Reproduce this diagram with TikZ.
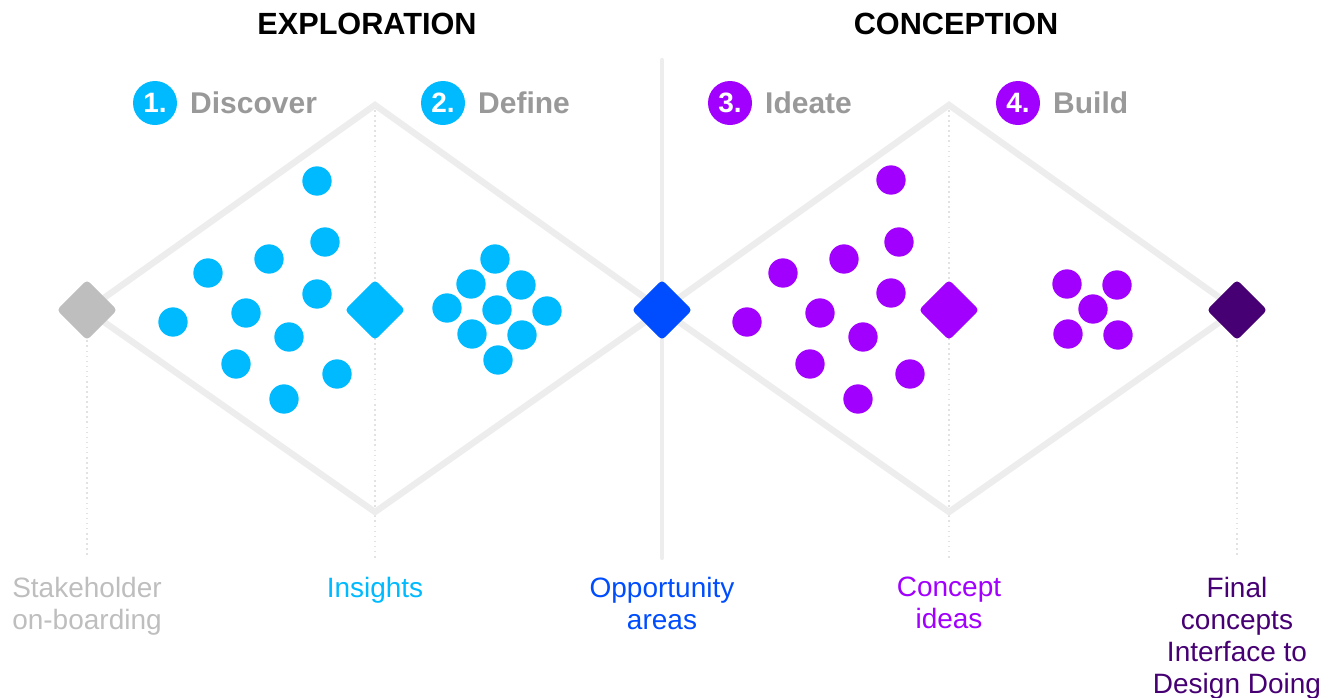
\documentclass[tikz,border=0pt]{standalone}
\usepackage{fontspec}
\setmainfont{Liberation Sans}
\usetikzlibrary{positioning,backgrounds}

\definecolor{acccyan}{HTML}{00BAFF}
\definecolor{accblue}{HTML}{004DFF}
\definecolor{accpurple}{HTML}{A100FF}
\definecolor{accdark}{HTML}{460073}
\definecolor{stonegray}{HTML}{BEBEBE}
\definecolor{labelgray}{HTML}{999999}
\definecolor{railgray}{HTML}{EDEDED}
\definecolor{dotgray}{HTML}{E2E2E2}

\begin{document}
\begin{tikzpicture}[x=0.75pt,y=-0.75pt,
  gem/.style={rotate=45, minimum size=32pt, inner sep=0pt, rounded corners=3pt},
  stepnum/.style={circle, minimum size=33pt, inner sep=0pt, text=white,
    font=\fontsize{21}{24}\selectfont\bfseries},
  steplabel/.style={text=labelgray, inner sep=0pt, font=\fontsize{22.5}{26}\selectfont\bfseries},
  phase/.style={inner sep=0pt, font=\fontsize{23}{26}\selectfont\bfseries},
  outcome/.style={anchor=north, align=center, inner sep=0pt, font=\fontsize{21}{24}\selectfont},
  rail/.style={draw=railgray, line width=4.8pt, line join=miter},
  guide/.style={draw=dotgray, line width=1.2pt, dash pattern=on 1.2pt off 2.6pt},
]
  \useasboundingbox (0,0) rectangle (1336,697);

  % milestones along the two diamonds
  \node[gem, fill=stonegray] (stake) at (87,310) {};
  \node[gem, fill=acccyan] (ins) at (375,310) {};
  \node[gem, fill=accblue] (opp) at (662,310) {};
  \node[gem, fill=accpurple] (idea) at (949,310) {};
  \node[gem, fill=accdark] (fin) at (1237,310) {};

  \coordinate (t1) at (375,105);
  \coordinate (b1) at (375,512);
  \coordinate (t2) at (949,105);
  \coordinate (b2) at (949,512);
  \coordinate (g0) at (87,558);
  \coordinate (g1) at (375,558);
  \coordinate (g3) at (949,558);
  \coordinate (g4) at (1237,558);
  \coordinate (sepTop) at (662,60);
  \coordinate (sepBot) at (662,558);

  \begin{scope}[on background layer]
    \draw[guide] (stake.center) -- (g0);
    \draw[guide] (t1) -- (g1);
    \draw[guide] (t2) -- (g3);
    \draw[guide] (fin.center) -- (g4);
    \draw[rail] (stake.center) -- (t1) -- (opp.center) -- (b1) -- cycle;
    \draw[rail] (opp.center) -- (t2) -- (fin.center) -- (b2) -- cycle;
    \draw[draw=railgray, line width=3.2pt, line cap=round] (sepTop) -- (sepBot);
  \end{scope}

  % scattered findings and ideas
  \foreach \x/\y in {317/181,325/242,269/259,208/273,317/294,246/313,173/322,
                     289/337,236/364,337/374,284/399,
                     495/259,471/284,521/285,447/308,497/310,547/311,472/334,522/335,498/360}
    \fill[acccyan] (\x,\y) circle[radius=11pt];
  \foreach \x/\y in {891/180,899/242,844/259,783/273,891/293,820/313,747/322,
                     863/337,810/364,910/374,858/399,
                     1067/284,1117/285,1093/309,1068/334,1118/335}
    \fill[accpurple] (\x,\y) circle[radius=11pt];

  % phase and step headings
  \node[phase] (explo) at (367,24) {EXPLORATION};
  \node[phase] (conc) at (956,24) {CONCEPTION};

  \node[stepnum, fill=acccyan] (n1) at (155,103) {1.};
  \node[steplabel, right=9.5pt of n1] (disc) {Discover};
  \node[stepnum, fill=acccyan] (n2) at (443,103) {2.};
  \node[steplabel, right=9.5pt of n2] (defi) {Define};
  \node[stepnum, fill=accpurple] (n3) at (730,103) {3.};
  \node[steplabel, right=9.5pt of n3] (ideat) {Ideate};
  \node[stepnum, fill=accpurple] (n4) at (1018,103) {4.};
  \node[steplabel, right=9.5pt of n4] (buil) {Build};

  % outcomes under each milestone
  \node[outcome, text=stonegray] (lstake) at (87,577) {Stakeholder\\on-boarding};
  \node[outcome, text=acccyan] (lins) at (375,577) {Insights};
  \node[outcome, text=accblue] (lopp) at (662,577) {Opportunity\\areas};
  \node[outcome, text=accpurple] (lidea) at (949,577) {Concept\\ideas};
  \node[outcome, text=accdark] (lfin) at (1237,577) {Final\\concepts\\Interface to\\Design Doing};
\end{tikzpicture}
\end{document}
